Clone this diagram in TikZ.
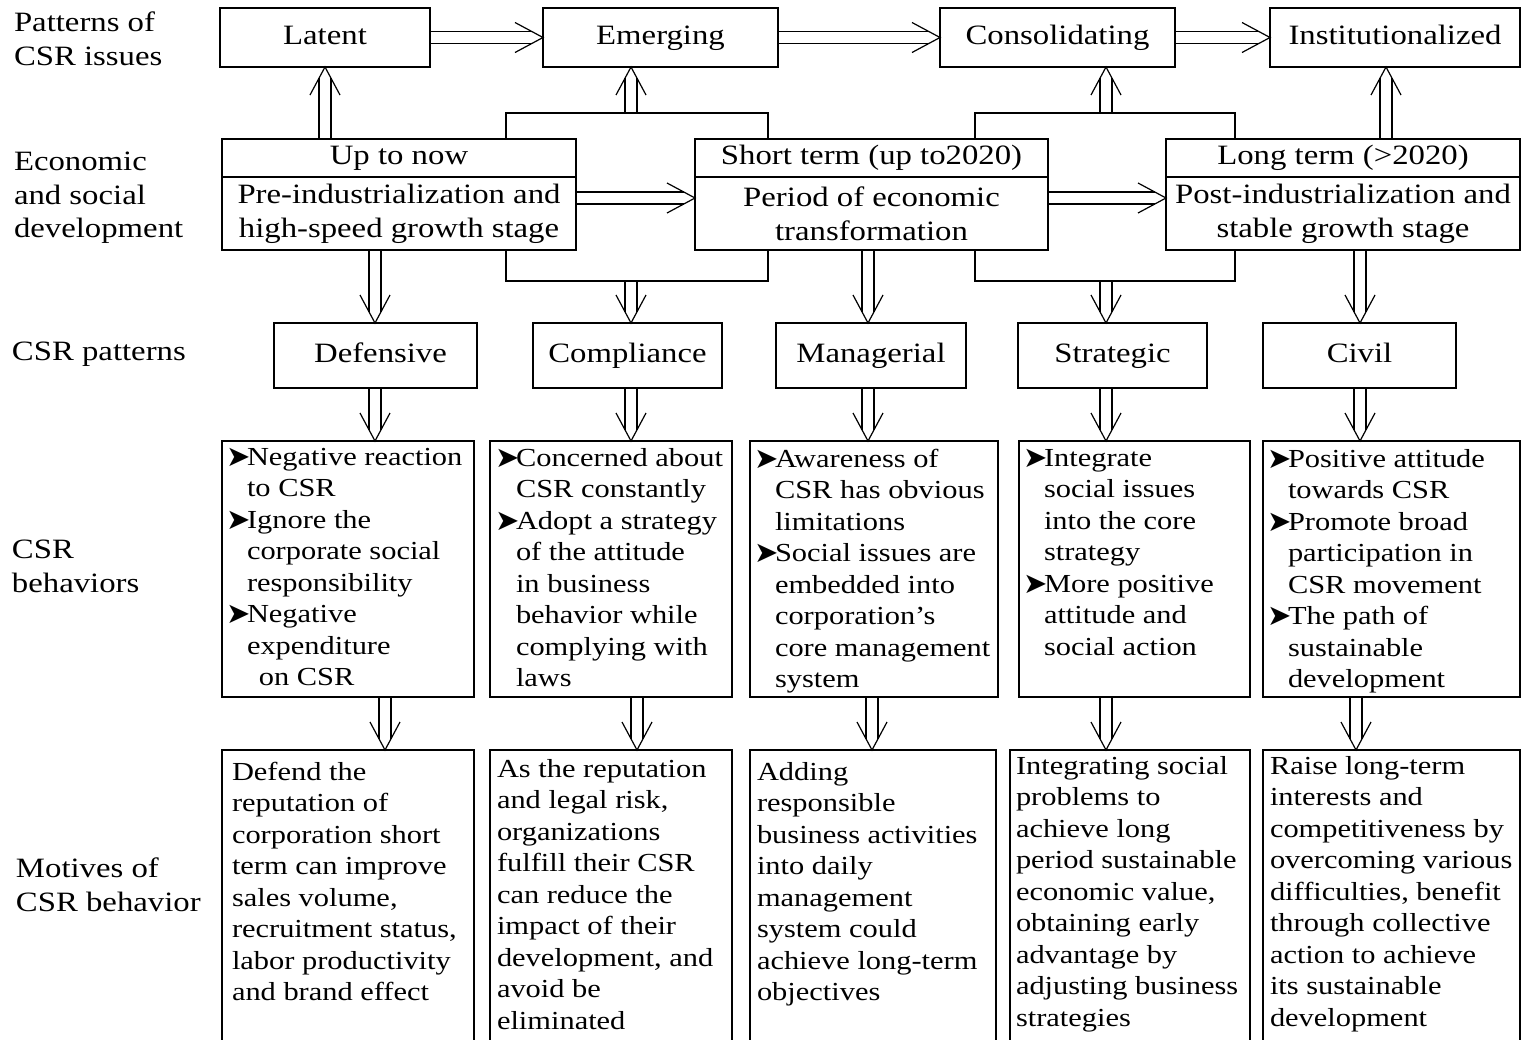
\documentclass[tikz,border=0pt]{standalone}
\usepackage{fontspec}
\setmainfont{Liberation Serif}[FakeStretch=1.17]
\newfontfamily\symfont{DejaVu Sans}
\usetikzlibrary{calc}

\tikzset{
  every node/.style={inner sep=0pt, outer sep=0pt},
  ln/.style={line width=1.2pt, draw=black},
  box/.style={draw=black, line width=1.2pt, rectangle, inner sep=0pt, outer sep=0pt},
  title/.style={font=\fontsize{28}{34}\selectfont, align=center},
  t1/.style={title, text height=19pt, text depth=6pt},
  body/.style={font=\fontsize{26}{31.5}\selectfont, align=left, anchor=north west},
  lbl/.style={font=\fontsize{28}{33.5}\selectfont, align=left, anchor=north west},
}

\newcommand\dblarr[2]{%
  \path ($(#2)!11pt!(#1)$) coordinate (tmpE) ($(#2)!28pt!(#1)$) coordinate (tmpH);
  \draw[ln] ($(#1)!6pt!90:(#2)$) -- ($(tmpE)!6pt!90:(#2)$);
  \draw[ln] ($(#1)!6pt!-90:(#2)$) -- ($(tmpE)!6pt!-90:(#2)$);
  \draw[ln] ($(tmpH)!15pt!90:(#2)$) -- (#2) -- ($(tmpH)!15pt!-90:(#2)$);
}
\newcommand\bul{\makebox[20pt][l]{\hspace*{-1pt}\raisebox{-1pt}{\symfont\fontsize{29}{29}\selectfont ➤}}}
\newcommand\ind{\hspace*{20pt}}

\begin{document}
\begin{tikzpicture}[x=1pt,y=-1pt]
\useasboundingbox (0,0) rectangle (1530,1039);
\clip (0,0) rectangle (1530,1039);
\fill[white] (0,0) rectangle (1530,1039);

% left labels
\node[lbl] (L1) at (14,12) {Patterns of\\CSR issues};
\node[lbl] (L2) at (14,152) {Economic\\and social\\development};
\node[lbl] (L3) at (12,342) {CSR patterns};
\node[lbl] (L4) at (12,540) {CSR\\behaviors};
\node[lbl] (L5) at (16,858) {Motives of\\CSR behavior};

% row 1
\node[box, t1, minimum width=210pt, minimum height=59pt] (lat) at (325,37.5) {Latent};
\node[box, t1, minimum width=235pt, minimum height=59pt] (emg) at (660.5,37.5) {Emerging};
\node[box, t1, minimum width=235pt, minimum height=59pt] (con) at (1057.5,37.5) {Consolidating};
\node[box, t1, minimum width=250pt, minimum height=59pt] (ins) at (1395,37.5) {Institutionalized};

% row 2
\node[box, t1, minimum width=354pt, minimum height=38pt] (upT) at (399,158) {Up to now};
\node[box, title, minimum width=354pt, minimum height=73pt] (upB) at (399,213.5) {Pre-industrialization and\\high-speed growth stage};
\node[box, t1, minimum width=353pt, minimum height=38pt] (shT) at (871.5,158) {Short term (up to2020)};
\node[box, title, minimum width=353pt, minimum height=73pt] (shB) at (871.5,213.5) {Period of economic\\transformation};
\node[box, t1, minimum width=354pt, minimum height=38pt] (loT) at (1343,158) {Long term (>2020)};
\node[box, title, minimum width=354pt, minimum height=73pt] (loB) at (1343,213.5) {Post-industrialization and\\stable growth stage};

% row 3
\node[box, t1, minimum width=203pt, minimum height=65pt] (def) at (375.5,355.5) {\hspace*{10pt}Defensive};
\node[box, t1, minimum width=189pt, minimum height=65pt] (com) at (627.5,355.5) {Compliance};
\node[box, t1, minimum width=190pt, minimum height=65pt] (man) at (871,355.5) {Managerial};
\node[box, t1, minimum width=189pt, minimum height=65pt] (str) at (1112.5,355.5) {Strategic};
\node[box, t1, minimum width=193pt, minimum height=65pt] (civ) at (1359.5,355.5) {Civil};

% row 4 boxes
\node[box, minimum width=252pt, minimum height=256pt] (b1) at (348,569) {};
\node[box, minimum width=242pt, minimum height=256pt] (b2) at (611,569) {};
\node[box, minimum width=248pt, minimum height=256pt] (b3) at (874,569) {};
\node[box, minimum width=231pt, minimum height=256pt] (b4) at (1134.5,569) {};
\node[box, minimum width=257pt, minimum height=256pt] (b5) at (1391.5,569) {};

\node[body] (b1t) at ($(b1.north west)+(5,7)$) {\bul Negative reaction\\\ind to CSR\\\bul Ignore the\\\ind corporate social\\\ind responsibility\\\bul Negative\\\ind expenditure\\\ind\, on CSR};
\node[body] (b2t) at ($(b2.north west)+(6,7)$) {\bul Concerned about\\\ind CSR constantly\\\bul Adopt a strategy\\\ind of the attitude\\\ind in business\\\ind behavior while\\\ind complying with\\\ind laws};
\node[body] (b3t) at ($(b3.north west)+(5,8)$) {\bul Awareness of\\\ind CSR has obvious\\\ind limitations\\\bul Social issues are\\\ind embedded into\\\ind corporation's\\\ind core management\\\ind system};
\node[body] (b4t) at ($(b4.north west)+(5,8)$) {\bul Integrate\\\ind social issues\\\ind into the core\\\ind strategy\\\bul More positive\\\ind attitude and\\\ind social action};
\node[body] (b5t) at ($(b5.north west)+(5,8)$) {\bul Positive attitude\\\ind towards CSR\\\bul Promote broad\\\ind participation in\\\ind CSR movement\\\bul The path of\\\ind sustainable\\\ind development};

% row 5 boxes (cut off at bottom)
\node[box, minimum width=252pt, minimum height=300pt, anchor=north] (m1) at (348,750) {};
\node[box, minimum width=242pt, minimum height=300pt, anchor=north] (m2) at (611,750) {};
\node[box, minimum width=246pt, minimum height=300pt, anchor=north] (m3) at (873,750) {};
\node[box, minimum width=240pt, minimum height=300pt, anchor=north] (m4) at (1130,750) {};
\node[box, minimum width=257pt, minimum height=300pt, anchor=north] (m5) at (1391.5,750) {};

\node[body] (m1t) at ($(m1.north west)+(10,12)$) {Defend the\\reputation of\\corporation short\\term can improve\\sales volume,\\recruitment status,\\labor productivity\\and brand effect};
\node[body] (m2t) at ($(m2.north west)+(7,9)$) {As the reputation\\and legal risk,\\organizations\\fulfill their CSR\\can reduce the\\impact of their\\development, and\\avoid be\\eliminated};
\node[body] (m3t) at ($(m3.north west)+(7,12)$) {Adding\\responsible\\business activities\\into daily\\management\\system could\\achieve long-term\\objectives};
\node[body] (m4t) at ($(m4.north west)+(6,6)$) {Integrating social\\problems to\\achieve long\\period sustainable\\economic value,\\obtaining early\\advantage by\\adjusting business\\strategies};
\node[body] (m5t) at ($(m5.north west)+(7,6)$) {Raise long-term\\interests and\\competitiveness by\\overcoming various\\difficulties, benefit\\through collective\\action to achieve\\its sustainable\\development};

% ---- connectors ----
% row 1 horizontal
\dblarr{lat.east}{emg.west}
\dblarr{emg.east}{con.west}
\dblarr{con.east}{ins.west}

% up arrows / brackets
\coordinate (uA) at (325,139);
\coordinate (uAt) at (325,67);
\dblarr{uA}{uAt}
\coordinate (eb1) at (506,139);
\coordinate (eb3) at (768,113);
\coordinate (eb4) at (768,139);
\draw[ln] (eb1) |- (eb3) -- (eb4);
\coordinate (ebm) at (631,113);
\coordinate (ebt) at (631,67);
\dblarr{ebm}{ebt}
\coordinate (cb1) at (975,139);
\coordinate (cb3) at (1235,113);
\coordinate (cb4) at (1235,139);
\draw[ln] (cb1) |- (cb3) -- (cb4);
\coordinate (cbm) at (1106,113);
\coordinate (cbt) at (1106,67);
\dblarr{cbm}{cbt}
\coordinate (iA) at (1386,139);
\coordinate (iAt) at (1386,67);
\dblarr{iA}{iAt}

% row 2 horizontal
\coordinate (h1s) at (576,198);
\coordinate (h1t) at (695,198);
\dblarr{h1s}{h1t}
\coordinate (h2s) at (1048,198);
\coordinate (h2t) at (1166,198);
\dblarr{h2s}{h2t}

% row 2 -> row 3
\coordinate (d1s) at (375,250);
\coordinate (d1t) at (375,323);
\dblarr{d1s}{d1t}
\coordinate (db1) at (506,250);
\coordinate (db3) at (768,281);
\coordinate (db4) at (768,250);
\draw[ln] (db1) |- (db3) -- (db4);
\coordinate (d2s) at (631,281);
\coordinate (d2t) at (631,323);
\dblarr{d2s}{d2t}
\coordinate (d3s) at (868,250);
\coordinate (d3t) at (868,323);
\dblarr{d3s}{d3t}
\coordinate (dc1) at (975,250);
\coordinate (dc3) at (1235,281);
\coordinate (dc4) at (1235,250);
\draw[ln] (dc1) |- (dc3) -- (dc4);
\coordinate (d4s) at (1106,281);
\coordinate (d4t) at (1106,323);
\dblarr{d4s}{d4t}
\coordinate (d5s) at (1360,250);
\coordinate (d5t) at (1360,323);
\dblarr{d5s}{d5t}

% row 3 -> row 4
\foreach \xx/\nm in {375/p1,631/p2,868/p3,1106/p4,1360/p5}{
  \coordinate (\nm s) at (\xx,388);
  \coordinate (\nm t) at (\xx,441);
  \dblarr{\nm s}{\nm t}
}
% row 4 -> row 5
\foreach \xx/\nm in {385/q1,637/q2,872/q3,1106/q4,1356/q5}{
  \coordinate (\nm s) at (\xx,697);
  \coordinate (\nm t) at (\xx,750);
  \dblarr{\nm s}{\nm t}
}
\end{tikzpicture}
\end{document}
